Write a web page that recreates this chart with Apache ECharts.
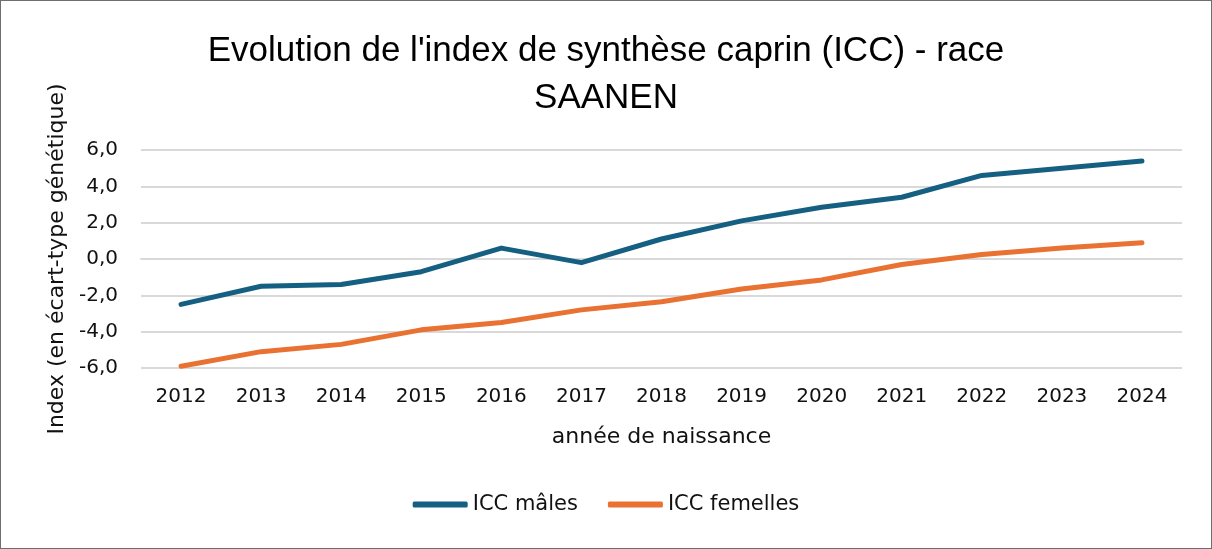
<!DOCTYPE html>
<html>
<head>
<meta charset="utf-8">
<script src="https://cdn.jsdelivr.net/npm/echarts@6/dist/echarts.min.js"></script>
<style>
html,body{margin:0;padding:0;background:#fff;}
#chart{width:1212px;height:549px;box-sizing:border-box;border:1px solid #6e6e6e;}
</style>
</head>
<body>
<div id="chart"></div>
<script>
// année de naissance
var years=['2012','2013','2014','2015','2016','2017','2018','2019','2020','2021','2022','2023','2024'];
// ICC (en écart-type génétique)
var males=[-2.5,-1.5,-1.4,-0.7,0.6,-0.2,1.1,2.1,2.85,3.4,4.6,5.0,5.4];
var femelles=[-5.9,-5.1,-4.7,-3.9,-3.5,-2.8,-2.35,-1.65,-1.15,-0.3,0.25,0.6,0.9];
var seriesNames=['ICC mâles','ICC femelles'];

var font='DejaVu Sans';
var mychart=echarts.init(document.getElementById('chart'));
mychart.setOption({
    animation:false,
    title:{
        text:"Evolution de l'index de synthèse caprin (ICC) - race\nSAANEN",
        left:'center',
        top:22,
        textStyle:{fontFamily:'Liberation Sans',fontSize:35,fontWeight:'normal',color:'#000',lineHeight:47}
    },
    legend:{
        data:seriesNames,
        bottom:28,
        left:'center',
        icon:'roundRect',
        itemWidth:55,
        itemHeight:6,
        itemGap:30,
        textStyle:{fontFamily:font,fontSize:21,color:'#111'}
    },
    grid:{left:140,right:29,top:149,bottom:180},
    xAxis:{
        type:'category',
        data:years,
        boundaryGap:true,
        name:'année de naissance',
        nameLocation:'middle',
        nameGap:58,
        nameTextStyle:{fontFamily:font,fontSize:22,color:'#111'},
        axisLine:{lineStyle:{color:'#d9d9d9',width:2}},
        axisTick:{show:false},
        axisLabel:{fontFamily:font,fontSize:20,color:'#111',margin:19}
    },
    yAxis:{
        type:'value',
        min:-6,
        max:6,
        interval:2,
        name:'Index (en écart-type génétique)',
        nameLocation:'middle',
        nameGap:72,
        nameTextStyle:{fontFamily:font,fontSize:22,color:'#111'},
        axisLine:{show:false},
        axisTick:{show:false},
        splitLine:{lineStyle:{color:'#d9d9d9',width:2}},
        axisLabel:{
            fontFamily:font,fontSize:20,color:'#111',margin:23,
            formatter:function(v){return v.toFixed(1).replace('.',',');}
        }
    },
    series:[
        {
            name:seriesNames[0],
            type:'line',
            data:males,
            showSymbol:false,
            symbol:'none',
            itemStyle:{color:'#156082'},
            lineStyle:{color:'#156082',width:5,cap:'round',join:'round'}
        },
        {
            name:seriesNames[1],
            type:'line',
            data:femelles,
            showSymbol:false,
            symbol:'none',
            itemStyle:{color:'#E97132'},
            lineStyle:{color:'#E97132',width:5,cap:'round',join:'round'}
        }
    ]
});
</script>
</body>
</html>
